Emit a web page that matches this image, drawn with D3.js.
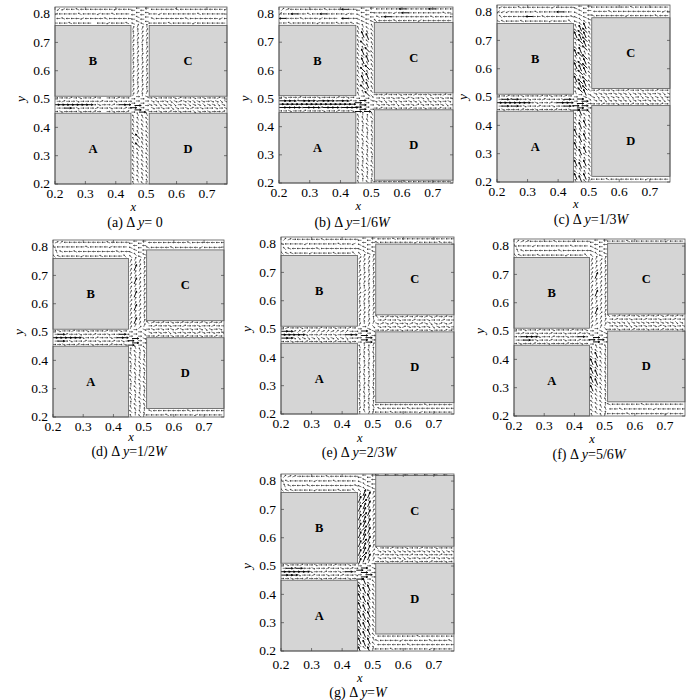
<!DOCTYPE html>
<html><head><meta charset="utf-8">
<script src="https://cdn.jsdelivr.net/npm/d3@7"></script>
<style>body{margin:0;background:#fff} text{font-family:"Liberation Serif","Times New Roman",Times,serif;}</style></head>
<body><svg id="c" width="700" height="700"></svg>
<script>
// ---------------- DATA ----------------
const panelLetters = ["a","b","c","d","e","f","g"];
const shiftFractions = [0, 1/6, 1/3, 1/2, 2/3, 5/6, 1];   // Δy / W
const captionTails = ["= 0","=1/6","=1/3","=1/2","=2/3","=5/6","="];
const captionHasW = [false,true,true,true,true,true,true];
const streetWidth = 0.06;                                   // W
const xDomain = [0.2, 0.766];
const yDomain = [0.2, 0.825];
const xTicks = [0.2,0.3,0.4,0.5,0.6,0.7];
const yTicks = [0.2,0.3,0.4,0.5,0.6,0.7,0.8];
const buildingNames = ["A","B","C","D"];
const buildingX = [[0.2,0.45],[0.2,0.45],[0.51,0.766],[0.51,0.766]];
const buildingY = [[0.2,0.45],[0.51,0.76],[0.51,0.76],[0.2,0.45]];
const buildingShifted = [false,false,true,true];

// Velocity directions (16 compass codes a..p = 0°..337.5°, upper case = strong, '.' = none)
const topLeftRows = [
 ["iiihiiii.iijiiih","ihiiijiiiihiiiii","jiiiihiiijiihiii","kjiihiiiiiiijiii"],
 ["iihiiiiijiiihiih","Iiiihiiijiii.Iii","ciiIiihiiIiiiiji","cbiiiiiiihiiiIii"],
 ["hhiiihiiiiijiiig","giiiiiIiihiiiiih","kjjiiiiihiiiiIii","jiiihiiiiiijiiii"],
 ["ghiiiijiiihiiiig","fhiihiiiiiiiihii","giiiiiihiiiijiii","bciiiiiiiiihiiii"],
 ["ghhiiijiiiihiiig","ghiiiiihiiiiiiii","hiiiijiiiiiihiij","cbaiiiiihiiiiiii"],
 ["ghiiihiiiiijiiig","fhiiiiiiihiiiiii","giiijiiiiiiihiii","cbbiiiiihiiiiiii"],
 ["ghhiiiijiiiihiig","fhiiihiiiiiiiiih","ghiiiiijiiihiiii","cbbaiiiiihiiiiii"]
];
const topRightRows = [
 ["iiiihiiiijiiiiii","hiiiiiihiiiiiiji","iijiiiiiiihiiiii","iiiiihiiiiiiiiij"],
 ["giiihiiiijiiiiii","hiIiiiiiiiihiiii","iiiijiIiiiiiiihi","iiiiiIiiiiiIiiii"],
 ["hiiiiiijiiiiihii","iiihiiiiiiiiiiji","iiiiiiiihiiiiiii"],
 ["hiiiihiiiiijiiii","iiiiiiiihiiiiiii"],
 ["hiiiiiiijiiiihii","iiihiiiiiiiiiiii"],
 ["iiiihiiiiiiijiii"],
 ["i.i.i.i.i.i.i.i."]
];
const verticalCols = [
 ["ffgffgfffgfgffffaAaadddedddeddedddedhiii",
  "fgfffgfgGfGffgffAAaaddeddddedddeddedhhii",
  "gffgfgffgfffgfgfAaaaeddeddddedeeddddhiii",
  "ffgfffgffgfgffgfaaapdedddedddddedddeiiii"],
 ["fegfefgfefgffeffAAAaffgfgfffgfgffgffhhhi",
  "efgfeffgefgfeffeAAAafGfFfGfFgFfGfFffhhii",
  "gfefgffefgfefgfeAaaaGfFgFfGfFfGfgFfghiii",
  "fefgfefgfefffegfaapogfgffgfgfgffgfgfhiii"],
 ["fFgfFgfgFfgFfgffAAaafgfFgfFgfFgfgFgfhhhh",
  "FgfFgfFgfFgfFgfFAAAaGFGfGFGfGFgGFGFgghhi",
  "gFfgFfgFfgFfgFfgAAApFGFGgFGFGfGFGFGFghii",
  "fgfgfgfgfgfgfgfgaaopgfgfgfgfgfgfgfgfhiii"],
 ["fgfefgfefgfefgfeAAaaddcdddcdddcdddcdghhi",
  "efgfefgfefgfefgfAAaadDddDddDddDddDddghii",
  "gfefgfefgfefgfefaaaacdddcdddcdddcdddhiii",
  "fefgfefgfefgfefgapopddedddedddedddedhiii"],
 ["edefedefedefedefaaaadedcdedcdedcdedcghhi",
  "fedefedefedefedeAAAaedddeddcedddedddghii",
  "defedefedefedefeAAapddeddedddeddedddhiii",
  "efedefedefedefedaapodedddedddeddedddhiii"],
 ["fgfgfgFgFgFgFgffaAaadcddcddcddcddcddghhi",
  "gfgfgfgFgFgFgFgfAAaacddDcddDcddDcdddghii",
  "fgfgfgfgfgfgfgfgaAapdddcdddcdddcdddchiii",
  "efefefefefefefefaapoddedddedddedddedhiii"],
 ["FgFgFgFgFgFgFgFgAaAaDdDdDdDdDdDdDdDdghhi",
  "gFgFgFgFgFgFgFgFAAAaDCDDCDDCDDCDDCDDgghi",
  "FfFgFfFgFfFgFfFgaAaadDdDdDdDdDdDdDdDhhii",
  "fgfgfgfgfgfgfgfgaapaddcdddcdddcdddcdhiii"]
];
const leftStreetRows = [
 ["apaaapaaba.apaab","aaAapaaabaapaaba","AAAAAAAAapaabaAA","abaapaaaabaapaaa","aaabapaaba.aabaa"],
 ["aapaabaaapaabaap","AAAAaAAAbAAAaAAA","AAAAAAAAAAAAAAAA","AAAbAAApAAAaAAba","apaabaaapaaabapa"],
 ["apaaabaapaaabaap","aAaAapaabaapaaAa","AAAAAAAapaabaAAA","aAbAaapaabaaapAa","aabaapaaabapaaba"],
 ["aapaabaapaaabaap","aAapaabaapaabapa","AAAAAApaabaapaAA","aAbaapaabaapaaAa","apaabaapaaabaapa"],
 ["aapaabaapaabaapa","AApopopopopopoaa","AAAAApaabaapaaAA","AAbcbcbcbcbcbcaa","abaapaaabaapaaba"],
 ["apaabaapaaabaapa","aaAapaabaapaabaa","aaAAApaabaapaaAa","abaapaabaapaabap","aapaabaapaaabaap"],
 ["aapaabaapaabaapa","AAApaabaapaabaap","AAAAAApaabaapaAa","aAbAaapaabaapaba","apaabaapaaabaapa"]
];
const rightStreetRows = [
 ["aapabapaaopapaab","papaopapbapaapap","ppoppoapoppoppop","ppapopbppoppappop","apaaapbaapapaaba"],
 ["abaapaabaapaabaa","papaopapbpapapoa","ppopppappoppppap","apapapbpapopapap","aabaapaabaapaaba"],
 ["aabaapaabaapaaba","ppoppppoppapppop","popoppopoaopopop","pppapppoppppapop","abaapaabaapaabaa"],
 ["aabaapaabaapaaba","papaopapapbpapap","apapapbpapapopap","abaapaabaapaabaa","gbabapabababpbab"],
 ["aabaapaabaapaaba","papapbpapapopapa","pbpbpapbpbpopbpb","abaapaabaapaabaa","gabapabababpbaba"],
 ["aapaabaapaabaapa","apapopapapbpapap","ppppoppppappppop","abaapaabaapaabaa","gababapababpbaba"],
 ["aapaabaapaabaapa","papapopapabapapa","abaapaabaapaabaa","pppoppppappppopp","gaabaapaabaapaaa"]
];
const bottomRightRows = [
 [],
 ["iiiiiihiiiiiiiii"],
 ["iiihiiiiiiijiiii"],
 ["iiiihiiiiijiiiii","hiiiiiiihiiiiiii"],
 ["iiihiiiiijiiiiii","hiiiiihiiiiiiiii","iiiiiiiiiihiiiii"],
 ["iiiihiiiiiiijiii","iihiiiiiijiiiiii","hiiiiiihiiiiiiii"],
 ["iiihiiiiiiijiiii","iiiiiihiiiiiiiii","hiiiijiiiiihiiih","iiiiiiiihiiiiiii"]
];

// ---------------- LAYOUT ----------------
const panelBoxes = [[55,184,172,177],[279,183,174,176],[497,182,173,177],
                    [53,417,171,177],[281,414,173,177],[514,416,171,177],[281,651,173,177]];
const tickOffset = [14,14,14,13.5,14,14,17.5];
const xLabelOffset = [27,27,26,23.5,27.5,27,30.5];
const captionPos = [[135,226.5],[352,226.5],[591,223.5],[129,456],[359,457],[589,458.5],[358,697]];
const dirCodes = "abcdefghijklmnop";

const svg = d3.select("#c");
const defs = svg.append("defs");

panelLetters.forEach((letter, k) => {
  const [L, B, w, h] = panelBoxes[k];
  const d = shiftFractions[k] * streetWidth;
  const x = d3.scaleLinear(xDomain, [L, L + w]);
  const y = d3.scaleLinear(yDomain, [B, B - h]);
  const pxPerUnit = w / (xDomain[1] - xDomain[0]);
  const g = svg.append("g");

  defs.append("clipPath").attr("id", "clip" + k)
    .append("rect").attr("x", L).attr("y", B - h).attr("width", w).attr("height", h);

  // buildings
  buildingNames.forEach((nm, i) => {
    const s = buildingShifted[i] ? d : 0;
    const x0 = x(buildingX[i][0]), x1 = x(Math.min(buildingX[i][1], xDomain[1]));
    const y0 = y(buildingY[i][0] + s), y1 = y(Math.min(buildingY[i][1] + s, yDomain[1]));
    g.append("rect").attr("x", x0).attr("y", y1).attr("width", x1 - x0).attr("height", y0 - y1)
      .attr("fill", "#d5d5d5").attr("stroke", "#5a5a5a").attr("stroke-width", 0.8);
    g.append("text").attr("x", (x0 + x1) / 2).attr("y", (y0 + y1) / 2 + 4)
      .attr("text-anchor", "middle").attr("font-weight", "bold")
      .attr("font-size", 12.5).text(nm);
  });

  // vector field (samples on a staggered grid inside each open street)
  const arrows = [];
  function addRows(rect, rows) {
    const [x0, x1, y0, y1] = rect;
    rows.forEach((row, i) => {
      const yy = y0 + (i + 0.5) * (y1 - y0) / rows.length;
      const sh = i % 2 ? 0.25 : -0.25;
      [...row].forEach((ch, j) => {
        arrows.push([x0 + (j + 0.5 + sh) * (x1 - x0) / row.length, yy, ch]);
      });
    });
  }
  function addCols(rect, cols) {
    const [x0, x1, y0, y1] = rect;
    cols.forEach((col, i) => {
      const xx = x0 + (i + 0.5) * (x1 - x0) / cols.length;
      const sh = i % 2 ? 0.25 : -0.25;
      [...col].forEach((ch, j) => {
        arrows.push([xx, y0 + (j + 0.5 + sh) * (y1 - y0) / col.length, ch]);
      });
    });
  }
  addRows([0.2, 0.45, 0.76, 0.825], topLeftRows[k]);
  addRows([0.51, 0.766, 0.76 + d, 0.825], topRightRows[k]);
  addCols([0.45, 0.51, 0.2, 0.825], verticalCols[k]);
  addRows([0.2, 0.45, 0.45, 0.51], leftStreetRows[k]);
  addRows([0.51, 0.766, 0.45 + d, 0.51 + d], rightStreetRows[k]);
  if (bottomRightRows[k].length) addRows([0.51, 0.766, 0.2, 0.2 + d], bottomRightRows[k]);

  let pWeak = "", pStrong = "";
  arrows.forEach(([ax, ay, ch]) => {
    const lo = ch.toLowerCase();
    const idx = dirCodes.indexOf(lo);
    if (idx < 0) return;
    const strong = ch !== lo;
    const len = (strong ? 0.022 : 0.012) * pxPerUnit;
    const th = idx * 22.5 * Math.PI / 180;
    const dx = Math.cos(th) * len, dy = -Math.sin(th) * len;
    const cx = x(ax), cy = y(ay);
    const tx = cx - dx / 2, ty = cy - dy / 2, hx = cx + dx / 2, hy = cy + dy / 2;
    const hl = strong ? 1.8 : 1.2, ha = 0.45;
    const bth = Math.atan2(-dy, -dx);
    const h1x = hx + hl * Math.cos(bth + ha), h1y = hy + hl * Math.sin(bth + ha);
    const h2x = hx + hl * Math.cos(bth - ha), h2y = hy + hl * Math.sin(bth - ha);
    const seg = `M${tx.toFixed(1)},${ty.toFixed(1)}L${hx.toFixed(1)},${hy.toFixed(1)}M${h1x.toFixed(1)},${h1y.toFixed(1)}L${hx.toFixed(1)},${hy.toFixed(1)}L${h2x.toFixed(1)},${h2y.toFixed(1)}`;
    if (strong) pStrong += seg; else pWeak += seg;
  });
  const vg = g.append("g").attr("clip-path", `url(#clip${k})`).attr("fill", "none");
  vg.append("path").attr("d", pWeak).attr("stroke", "#222").attr("stroke-width", 0.6);
  vg.append("path").attr("d", pStrong).attr("stroke", "#000").attr("stroke-width", 0.95);

  // frame + ticks
  g.append("rect").attr("x", L).attr("y", B - h).attr("width", w).attr("height", h)
    .attr("fill", "none").attr("stroke", "#555").attr("stroke-width", 0.8);
  const tk = g.append("g").attr("stroke", "#444").attr("stroke-width", 0.7);
  xTicks.forEach(t => {
    tk.append("line").attr("x1", x(t)).attr("x2", x(t)).attr("y1", B).attr("y2", B - 3);
    tk.append("line").attr("x1", x(t)).attr("x2", x(t)).attr("y1", B - h).attr("y2", B - h + 3);
    g.append("text").attr("x", x(t)).attr("y", B + tickOffset[k]).attr("text-anchor", "middle")
      .attr("font-size", 13.5).text(d3.format(".1f")(t));
  });
  yTicks.forEach(t => {
    tk.append("line").attr("x1", L).attr("x2", L + 3).attr("y1", y(t)).attr("y2", y(t));
    tk.append("line").attr("x1", L + w).attr("x2", L + w - 3).attr("y1", y(t)).attr("y2", y(t));
    g.append("text").attr("x", L - 5).attr("y", y(t) + 4.2).attr("text-anchor", "end")
      .attr("font-size", 13.5).text(d3.format(".1f")(t));
  });
  g.append("text").attr("x", x(0.458)).attr("y", B + xLabelOffset[k]).attr("text-anchor", "middle")
    .attr("font-style", "italic").attr("font-size", 12.5).text("x");
  g.append("text").attr("transform", `translate(${L - 30},${y(0.5)}) rotate(-90)`)
    .attr("text-anchor", "middle").attr("font-style", "italic")
    .attr("font-size", 13.5).text("y");

  // caption
  const cap = g.append("text").attr("x", captionPos[k][0]).attr("y", captionPos[k][1])
    .attr("text-anchor", "middle").attr("font-size", 14);
  cap.append("tspan").text(`(${letter}) Δ `);
  cap.append("tspan").attr("font-style", "italic").text("y");
  cap.append("tspan").text(captionTails[k]);
  if (captionHasW[k]) cap.append("tspan").attr("font-style", "italic").text("W");
});
</script>
</body></html>
